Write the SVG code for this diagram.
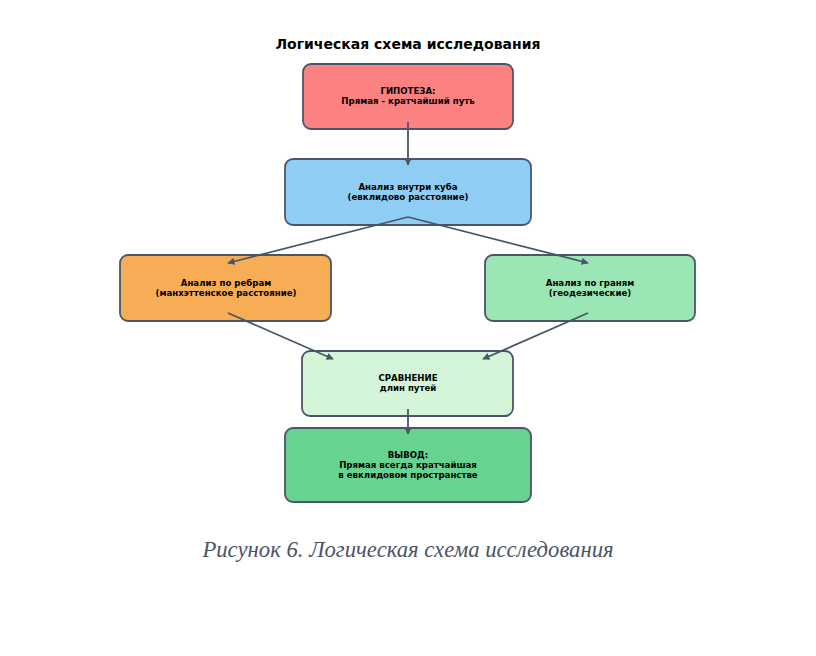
<svg xmlns="http://www.w3.org/2000/svg" width="816" height="656" viewBox="0 0 816 656">
<style>
.box{stroke:#4a5568;stroke-width:1.8}
.t{font-family:"DejaVu Sans",sans-serif;font-weight:bold;font-size:8.6px;text-anchor:middle;fill:#000}
.c{stroke:#4a5568;stroke-width:1.8;fill:none;marker-end:url(#ah)}
</style>
<defs>
<marker id="ah" viewBox="0 0 10 10" refX="9" refY="5" markerWidth="4" markerHeight="4" orient="auto" markerUnits="strokeWidth">
<path d="M0,0 L10,5 L0,10 z" fill="#4a5568"/>
</marker>
</defs>
<rect width="816" height="656" fill="#fff"/>
<text x="408" y="49" style="font-family:'DejaVu Sans',sans-serif;font-weight:bold;font-size:14px;text-anchor:middle">Логическая схема исследования</text>
<g id="hyp">
<rect class="box" x="303" y="64" width="210" height="65" rx="8" fill="#fc8181"/>
<text class="t" x="408" y="94">ГИПОТЕЗА:</text>
<text class="t" x="408" y="104">Прямая - кратчайший путь</text>
</g>
<g id="inside">
<rect class="box" x="285" y="159" width="246" height="66" rx="8" fill="#90cdf4"/>
<text class="t" x="408" y="190">Анализ внутри куба</text>
<text class="t" x="408" y="200">(евклидово расстояние)</text>
</g>
<g id="edges">
<rect class="box" x="120" y="255" width="211" height="66" rx="8" fill="#f6ad55"/>
<text class="t" x="226" y="286">Анализ по ребрам</text>
<text class="t" x="226" y="296">(манхэттенское расстояние)</text>
</g>
<g id="faces">
<rect class="box" x="485" y="255" width="210" height="66" rx="8" fill="#9ae6b4"/>
<text class="t" x="590" y="286">Анализ по граням</text>
<text class="t" x="590" y="296">(геодезические)</text>
</g>
<g id="compare">
<rect class="box" x="302" y="351" width="211" height="65" rx="8" fill="#d5f5d8"/>
<text class="t" x="408" y="381">СРАВНЕНИЕ</text>
<text class="t" x="408" y="391">длин путей</text>
</g>
<g id="concl">
<rect class="box" x="285" y="428" width="246" height="74" rx="8" fill="#68d391"/>
<text class="t" x="408" y="458">ВЫВОД:</text>
<text class="t" x="408" y="468">Прямая всегда кратчайшая</text>
<text class="t" x="408" y="478">в евклидовом пространстве</text>
</g>
<g id="connectors">
<line class="c" x1="408" y1="122" x2="408" y2="165"/>
<line class="c" x1="408" y1="217" x2="228" y2="263"/>
<line class="c" x1="408" y1="217" x2="588" y2="263"/>
<line class="c" x1="228" y1="313" x2="333" y2="359"/>
<line class="c" x1="588" y1="313" x2="483" y2="359"/>
<line class="c" x1="408" y1="409" x2="408" y2="434"/>
</g>
<text x="408" y="557" style="font-family:'Liberation Serif',serif;font-style:italic;font-size:22.7px;text-anchor:middle;fill:#4a5568">Рисунок 6. Логическая схема исследования</text>
</svg>
